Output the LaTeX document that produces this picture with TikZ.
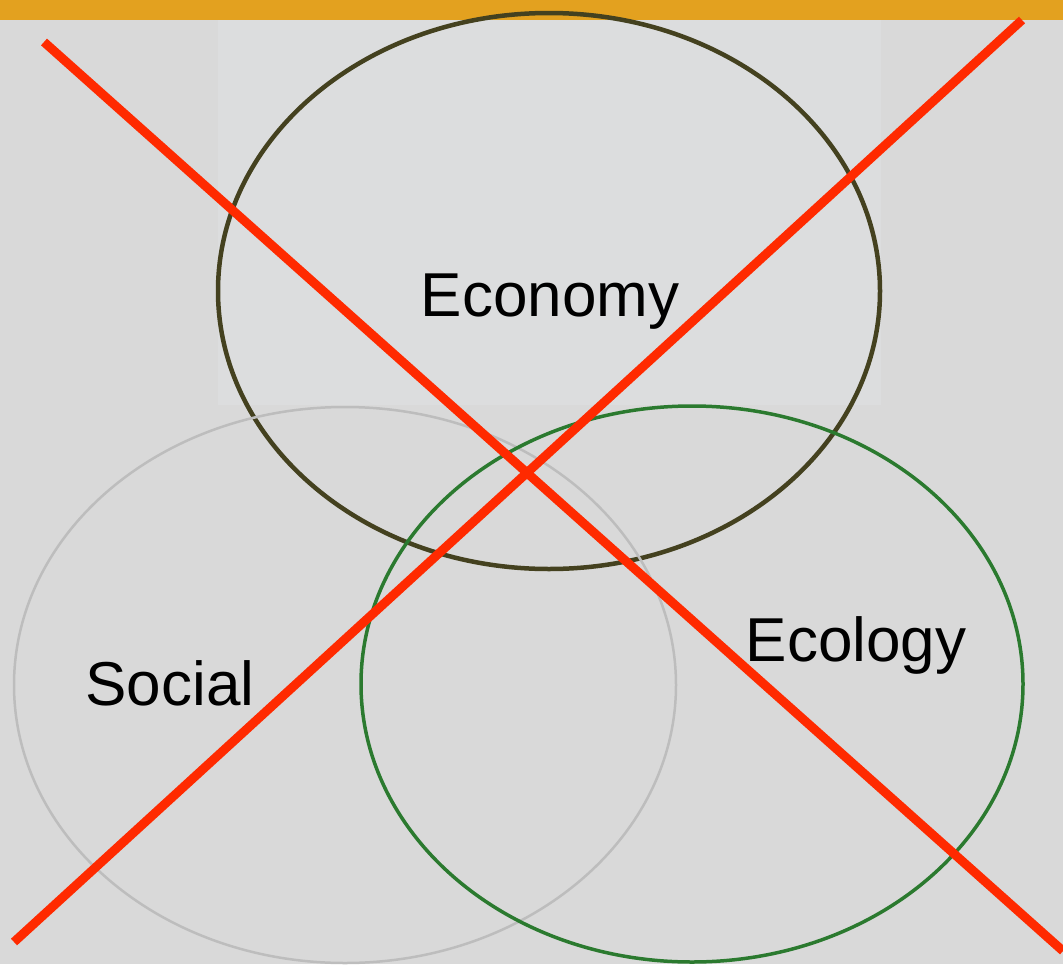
\documentclass[tikz,border=0pt]{standalone}
\usepackage{fontspec}
\setmainfont{Liberation Sans}
\usetikzlibrary{shapes.geometric}
\definecolor{bgGrey}{HTML}{D9D9D9}
\definecolor{panelGrey}{HTML}{DCDDDE}
\definecolor{barOrange}{HTML}{E3A11F}
\definecolor{econOlive}{HTML}{44411F}
\definecolor{socGrey}{HTML}{BDBDBD}
\definecolor{ecoGreen}{HTML}{2B7A2F}
\definecolor{crossRed}{HTML}{FF2A00}
\tikzset{
  circle3/.style={ellipse, draw, minimum width=662pt, minimum height=556pt, inner sep=0pt},
  word/.style={anchor=base, text=black, font=\fontsize{62}{70}\selectfont},
  cross/.style={draw=crossRed, line width=9pt}
}

\begin{document}
\begin{tikzpicture}[x=1pt,y=-1pt]
    % Background
    \useasboundingbox (0,0) rectangle (1063,964);
    \fill[bgGrey] (0,0) rectangle (1063,964);
    \fill[panelGrey] (218,20) rectangle (881,405);
    \fill[barOrange] (0,0) rectangle (1063,20);
    % Three spheres
    \node[circle3, draw=econOlive, line width=4.5pt] (economy) at (549,291) {};
    \node[circle3, draw=socGrey, line width=2.5pt] (social) at (345,685) {};
    \node[circle3, draw=ecoGreen, line width=3.5pt] (ecology) at (692,684) {};
    % Labels
    \node[word] (economyLbl) at (550,316) {Economy};
    \node[word] (socialLbl) at (170,705) {Social};
    \node[word] (ecologyLbl) at (856,661) {Ecology};
    % Cross
    \coordinate (tl) at (44,42);
    \coordinate (br) at (1063,951);
    \coordinate (tr) at (1022,20);
    \coordinate (bl) at (14,942);
    \path[cross] (tl) -- (br);
    \path[cross] (tr) -- (bl);
\end{tikzpicture}
\end{document}
